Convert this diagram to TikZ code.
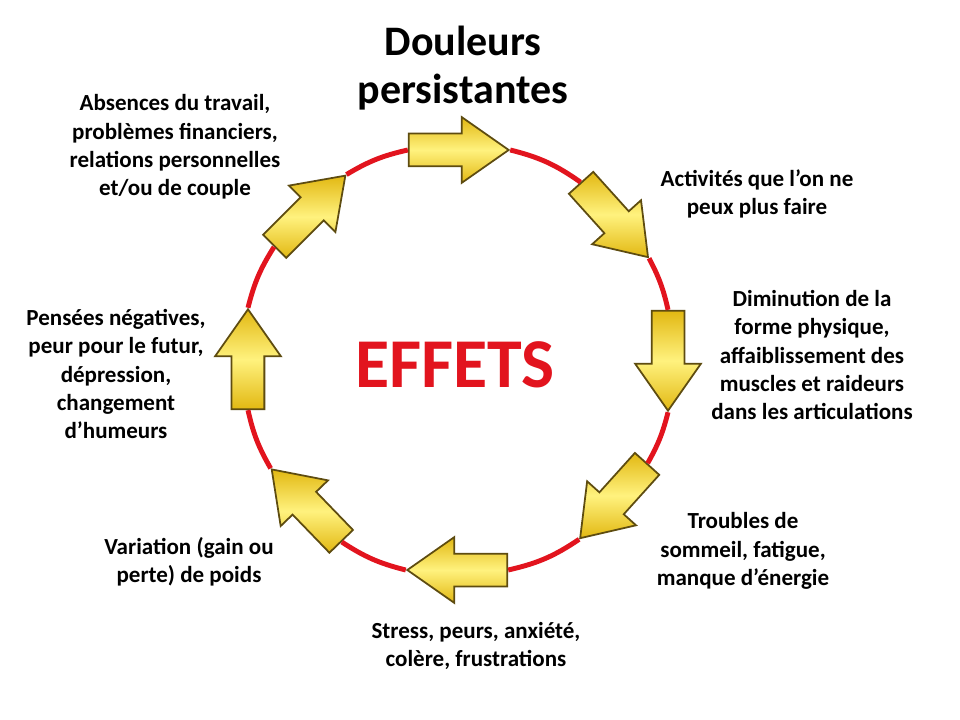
\documentclass[tikz,border=0pt]{standalone}
\usepackage{fontspec}
\setmainfont{Carlito}
\usetikzlibrary{shapes.arrows}
\definecolor{ringred}{HTML}{E2141E}
\definecolor{goldlight}{HTML}{FFF27E}
\definecolor{golddark}{HTML}{E2B812}
\definecolor{goldline}{HTML}{5E4C10}

\begin{document}
\begin{tikzpicture}[x=0.2mm, y=0.2mm,
        goldarrow/.style={single arrow, draw=goldline, line width=1pt, inner xsep=0pt, inner ysep=3.1mm,
            top color=golddark, bottom color=golddark, middle color=goldlight,
            minimum height=20mm, minimum width=12.8mm, single arrow head extend=3.3mm,
            single arrow tip angle=70},
        ring/.style={draw=ringred, line width=2.8pt},
        txt/.style={align=center, font=\bfseries\fontsize{13.1}{16.2}\selectfont}
    ]
    \useasboundingbox (0,0) rectangle (960,720);
    \fill[white] (0,0) rectangle (960,720);
    \coordinate (c) at (458,360);
    % Flèches
    \node[goldarrow, rotate=0] (a1) at ([shift={(93:210.3)}]c) {};
    \node[goldarrow, rotate=-48] (a2) at ([shift={(45:210.3)}]c) {};
    \node[goldarrow, rotate=-90] (a3) at ([shift={(3:210.3)}]c) {};
    \node[goldarrow, rotate=-132] (a4) at ([shift={(-39:210.3)}]c) {};
    \node[goldarrow, rotate=180] (a5) at ([shift={(-87:210.3)}]c) {};
    \node[goldarrow, rotate=134] (a6) at ([shift={(-133:210.3)}]c) {};
    \node[goldarrow, rotate=90] (a7) at ([shift={(183:210.3)}]c) {};
    \node[goldarrow, rotate=45] (a8) at ([shift={(138:210.3)}]c) {};
    % Cercle
    \draw[ring] (a1.tip) to[bend left=10.6] (a2.tail);
    \draw[ring] (a2.tip) to[bend left=7.6] (a3.tail);
    \draw[ring] (a3.tip) to[bend left=7.6] (a4.tail);
    \draw[ring] (a4.tip) to[bend left=10.6] (a5.tail);
    \draw[ring] (a5.tip) to[bend left=9.6] (a6.tail);
    \draw[ring] (a6.tip) to[bend left=8.6] (a7.tail);
    \draw[ring] (a7.tip) to[bend left=9.1] (a8.tail);
    \draw[ring] (a8.tip) to[bend left=9.1] (a1.tail);
    % Textes
    \node[align=center, font=\bfseries\fontsize{23.9}{27.3}\selectfont] (douleurs) at (463,652) {Douleurs\\persistantes};
    \node[text=ringred, font=\bfseries\fontsize{39.8}{44}\selectfont] (effets) at (455,355) {EFFETS};
    \node[txt] (activites) at (757,526) {Activités que l’on ne\\peux plus faire};
    \node[txt] (diminution) at (812,365) {Diminution de la\\forme physique,\\affaiblissement des\\muscles et raideurs\\dans les articulations};
    \node[txt] (troubles) at (743,169) {Troubles de\\sommeil, fatigue,\\manque d’énergie};
    \node[txt] (stress) at (476,74) {Stress, peurs, anxiété,\\colère, frustrations};
    \node[txt] (variation) at (189,158) {Variation (gain ou\\perte) de poids};
    \node[txt] (pensees) at (116,346) {Pensées négatives,\\peur pour le futur,\\dépression,\\changement\\d’humeurs};
    \node[txt] (absences) at (175,573) {Absences du travail,\\problèmes financiers,\\relations personnelles\\et/ou de couple};
\end{tikzpicture}
\end{document}
